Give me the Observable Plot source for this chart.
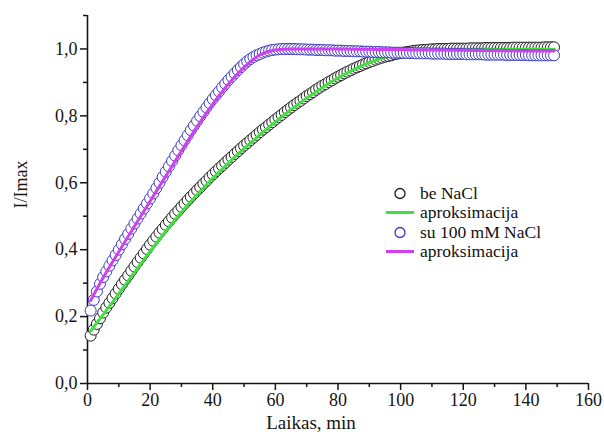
<!DOCTYPE html>
<html><head><meta charset="utf-8">
<script src="https://cdn.jsdelivr.net/npm/d3@7"></script>
<script src="https://cdn.jsdelivr.net/npm/@observablehq/plot@0.6"></script>
<style>
body{margin:0;background:#fff;}
#wrap{position:relative;width:604px;height:440px;}
#legend{position:absolute;left:384px;top:184px;font-family:"Liberation Serif","Times New Roman",serif;font-size:17.5px;color:#111;}
.row{display:flex;align-items:center;height:19.3px;white-space:nowrap}
.row svg{width:32px;height:19px;margin-right:4px;flex:none}
</style></head><body><div id="wrap"></div>
<script>
// sampling times, min
const minutes = d3.range(1, 150);
// I/Imax without NaCl (circles)
const beNaCl = [
0.143,0.161,0.178,0.195,0.212, 0.227,0.241,0.255,0.269,0.283,
0.297,0.310,0.323,0.337,0.350, 0.363,0.376,0.389,0.402,0.415,
0.427,0.439,0.451,0.462,0.474, 0.485,0.496,0.507,0.517,0.528,
0.538,0.548,0.558,0.568,0.578, 0.587,0.597,0.606,0.616,0.625,
0.634,0.643,0.651,0.660,0.669, 0.677,0.686,0.694,0.703,0.711,
0.719,0.727,0.735,0.743,0.751, 0.759,0.766,0.774,0.781,0.789,
0.796,0.803,0.811,0.818,0.825, 0.832,0.839,0.845,0.852,0.859,
0.865,0.871,0.878,0.884,0.890, 0.895,0.901,0.906,0.912,0.917,
0.922,0.927,0.932,0.936,0.941, 0.945,0.949,0.953,0.957,0.961,
0.964,0.968,0.971,0.974,0.977, 0.979,0.981,0.984,0.986,0.988,
0.989,0.991,0.992,0.994,0.995, 0.996,0.997,0.997,0.998,0.999,
0.999,1.000,1.000,1.000,1.000, 1.001,1.001,1.001,1.001,1.001,
1.001,1.002,1.002,1.002,1.002, 1.002,1.003,1.003,1.003,1.003,
1.003,1.003,1.003,1.003,1.003, 1.004,1.004,1.004,1.004,1.004,
1.004,1.004,1.004,1.004,1.004, 1.005,1.005,1.005,1.005
];
// I/Imax with 100 mM NaCl (circles)
const su100 = [
0.218,0.250,0.275,0.298,0.318, 0.335,0.352,0.368,0.384,0.400,
0.416,0.432,0.447,0.463,0.478, 0.493,0.508,0.523,0.538,0.553,
0.568,0.584,0.600,0.617,0.633, 0.649,0.665,0.681,0.697,0.712,
0.727,0.742,0.757,0.771,0.785, 0.799,0.812,0.825,0.838,0.850,
0.862,0.873,0.885,0.896,0.907, 0.917,0.927,0.937,0.946,0.955,
0.963,0.970,0.976,0.981,0.985, 0.989,0.992,0.995,0.997,0.998,
0.999,1.000,1.000,1.000,1.000,1.000,0.999,0.999,0.999,0.998,
0.998,0.998,0.997,0.997,0.997,0.996,0.996,0.996,0.995,0.995,
0.995,0.994,0.994,0.994,0.993,0.993,0.993,0.992,0.992,0.992,
0.991,0.991,0.991,0.990,0.990,0.990,0.989,0.989,0.989,0.989,
0.988,0.988,0.988,0.988,0.987,0.987,0.987,0.987,0.987,0.986,
0.986,0.986,0.986,0.986,0.985,0.985,0.985,0.985,0.985,0.985,
0.984,0.984,0.984,0.984,0.984,0.984,0.983,0.983,0.983,0.983,
0.983,0.983,0.983,0.982,0.982,0.982,0.982,0.982,0.982,0.982,
0.981,0.981,0.981,0.981,0.981,0.981,0.981,0.981,0.981
];
// approximation curves
const fitMinutes = [1,5,10,15,20,25,30,35,40,45,50,55,60,65,70,75,80,85,90,95,100,105,110,120,130,140,149];
const fitBe = [0.157,0.206,0.268,0.332,0.395,0.455,0.512,0.564,0.613,0.659,0.702,0.743,0.782,0.819,0.853,0.885,0.913,0.938,0.959,0.976,0.988,0.995,0.998,0.999,0.999,0.999,0.999];
const fitSu = [0.248,0.316,0.394,0.470,0.545,0.620,0.695,0.768,0.835,0.895,0.945,0.982,0.997,1.000,1.000,1.000,1.000,0.999,0.999,0.998,0.998,0.997,0.997,0.996,0.995,0.994,0.994];

const xTicks = [0,20,40,60,80,100,120,140,160];
const xMinor = [10,30,50,70,90,110,130,150];
const yTicks = [0,0.2,0.4,0.6,0.8,1.0];
const yMinor = [0.1,0.3,0.5,0.7,0.9,1.1];
const legendLabels = ["be NaCl","aproksimacija","su 100 mM NaCl","aproksimacija"];
const colors = {be:"#1e1e1e", fitBe:"#3fe03f", su:"#3a3ac4", fitSu:"#d040f0"};

const ptsBe = minutes.map((t,i)=>({t, v: beNaCl[i]}));
const ptsSu = minutes.map((t,i)=>({t, v: su100[i]}));
const lineBe = fitMinutes.map((t,i)=>({t, v: fitBe[i]}));
const lineSu = fitMinutes.map((t,i)=>({t, v: fitSu[i]}));
const comma = d => d3.format(".1f")(d).replace(".", ",");
const ink = "#151515";

const plot = Plot.plot({
  width:604, height:440,
  marginLeft:87, marginRight:16, marginTop:15, marginBottom:57,
  style:{fontFamily:"'Liberation Serif','Times New Roman',serif", fontSize:"18px", color:ink, background:"white", overflow:"visible"},
  x:{domain:[0,160]},
  y:{domain:[0,1.1]},
  marks:[
    Plot.axisX({ticks:xTicks, tickSize:7, tickPadding:3, label:null, strokeWidth:1.5, stroke:ink, fontSize:18}),
    Plot.axisX({ticks:xMinor, tickSize:4, tickFormat:()=>"", label:null, strokeWidth:1.5, stroke:ink}),
    Plot.axisY({ticks:yTicks, tickSize:7, tickPadding:3, tickFormat:comma, label:null, strokeWidth:1.5, stroke:ink, fontSize:18}),
    Plot.axisY({ticks:yMinor, tickSize:4, tickFormat:()=>"", label:null, strokeWidth:1.5, stroke:ink}),
    Plot.ruleX([0], {stroke:ink, strokeWidth:1.6}),
    Plot.ruleY([0], {stroke:ink, strokeWidth:1.6}),
    Plot.dot(ptsBe, {x:"t", y:"v", r:5.5, stroke:colors.be, fill:"white", strokeWidth:1}),
    Plot.line(lineBe, {x:"t", y:"v", stroke:colors.fitBe, strokeWidth:3, curve:"monotone-x"}),
    Plot.dot(ptsSu, {x:"t", y:"v", r:5.5, stroke:colors.su, fill:"white", strokeWidth:1}),
    Plot.line(lineSu, {x:"t", y:"v", stroke:colors.fitSu, strokeWidth:3, curve:"monotone-x"}),
    Plot.text(["I/Imax"], {text:d=>d, frameAnchor:"left", dx:-66, dy:9, rotate:-90, fontSize:18}),
    Plot.text(["Laikas, min"], {text:d=>d, frameAnchor:"bottom", dx:-27, dy:45, fontSize:19})
  ]
});
const wrap = document.getElementById("wrap");
wrap.appendChild(plot);

// legend overlay
const legend = document.createElement("div");
legend.id = "legend";
const kinds = [["dot",colors.be],["line",colors.fitBe],["dot",colors.su],["line",colors.fitSu]];
legendLabels.forEach((lab,i)=>{
  const row = document.createElement("div");
  row.className = "row";
  const [k,c] = kinds[i];
  const sw = k==="dot"
    ? `<svg viewBox="0 0 32 19"><circle cx="16" cy="9.5" r="5" fill="white" stroke="${c}" stroke-width="1.3"/></svg>`
    : `<svg viewBox="0 0 32 19"><line x1="2" x2="30" y1="9.5" y2="9.5" stroke="${c}" stroke-width="3"/></svg>`;
  row.innerHTML = sw + `<span>${lab}</span>`;
  legend.appendChild(row);
});
wrap.appendChild(legend);
</script>
</body></html>
